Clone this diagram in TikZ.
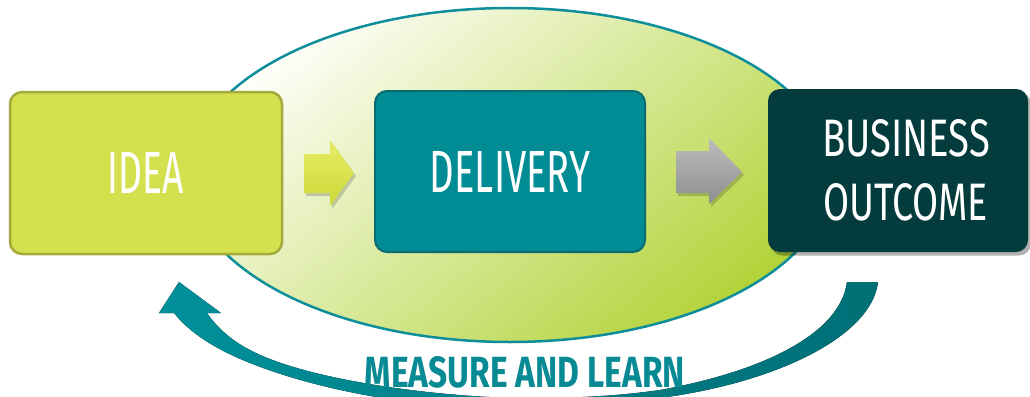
\documentclass[tikz,border=0pt]{standalone}
\usepackage{fontspec}
\setmainfont{Fira Sans}
\usetikzlibrary{shapes.geometric}
\definecolor{ideafill}{HTML}{D5E04F}
\definecolor{idealine}{HTML}{A4AA3B}
\definecolor{delfill}{HTML}{008B95}
\definecolor{delline}{HTML}{0A6B70}
\definecolor{bizfill}{HTML}{043B3C}
\definecolor{ellline}{HTML}{0D8E9A}
\definecolor{elltop}{HTML}{FDFEF8}
\definecolor{ellmid}{HTML}{E6EFC0}
\definecolor{ellbot}{HTML}{B3D33A}
\definecolor{bandL}{HTML}{00909A}
\definecolor{bandR}{HTML}{006F76}
\definecolor{mltext}{HTML}{078A94}
\definecolor{aonetop}{HTML}{E6EC64}
\definecolor{aonebot}{HTML}{CCDA38}
\definecolor{atwotop}{HTML}{BDBDBD}
\definecolor{atwobot}{HTML}{8E8E8E}
\tikzset{
  stagebox/.style={rounded corners=12pt, minimum width=#1, inner sep=0pt, text=white},
  loopell/.style={ellipse, inner sep=0pt, minimum width=644pt, minimum height=334pt,
    draw=ellline, line width=2.5pt, top color=elltop, middle color=ellmid, bottom color=ellbot, shading angle=40},
  arrshadow/.style={fill=black, opacity=0.18},
}
\begin{document}
\begin{tikzpicture}[x=1pt,y=-1pt]
\useasboundingbox (0,0) rectangle (1030,396);
% loop ellipse
\node[loopell] (loop) at (510,175) {};
% measure and learn band
\fill[left color=bandL, right color=bandR]
  (878,282) .. controls (872,335) and (780,382) .. (660,398)
  .. controls (600,406) and (560,410) .. (520,410)
  .. controls (440,410) and (330,395) .. (250,363)
  .. controls (215,349) and (190,333) .. (174,313)
  -- (159,313) -- (179,282) -- (221,313) -- (207,313)
  .. controls (215,325) and (230,340) .. (250,350)
  .. controls (310,382) and (450,398) .. (525,398)
  .. controls (570,398) and (610,397) .. (660,390)
  .. controls (760,372) and (840,335) .. (847,282) -- cycle;
\node[text=mltext, inner sep=0pt] (ml) at (525,372) {\resizebox{320pt}{31pt}{\bfseries MEASURE AND LEARN}};
% boxes
\node[stagebox=272pt, minimum height=162pt, fill=ideafill, draw=idealine, line width=2.5pt] (idea) at (146,173) {\resizebox{76pt}{41pt}{IDEA}};
\node[stagebox=270pt, minimum height=161pt, fill=delfill, draw=delline, line width=2pt] (delivery) at (510,171.5) {\resizebox{160pt}{41pt}{DELIVERY}};
\fill[black, opacity=0.3, rounded corners=12pt] (770.5,92) rectangle (1031,255.5);
\node[stagebox=260pt, minimum height=163pt, fill=bizfill, align=center, font=\fontsize{40}{64}\selectfont] (biz) at (898,170.5)
  {\hspace*{16pt}\resizebox{168pt}{37pt}{BUSINESS}\\\hspace*{15pt}\resizebox{165pt}{37pt}{OUTCOME}};
% block arrows
\fill[arrshadow] (306,157) -- (332,157) -- (332,143) -- (356,176) -- (332,209) -- (332,196) -- (306,196) -- cycle;
\shade[top color=aonetop, bottom color=aonebot]
  (304,154) -- (330,154) -- (330,140) -- (354,173) -- (330,206) -- (330,193) -- (304,193) -- cycle;
\fill[arrshadow] (678,154) -- (711,154) -- (711,141) -- (744,175) -- (711,207) -- (711,196) -- (678,196) -- cycle;
\shade[top color=atwotop, bottom color=atwobot]
  (676,151) -- (709,151) -- (709,138) -- (742,172) -- (709,204) -- (709,193) -- (676,193) -- cycle;
\end{tikzpicture}
\end{document}
